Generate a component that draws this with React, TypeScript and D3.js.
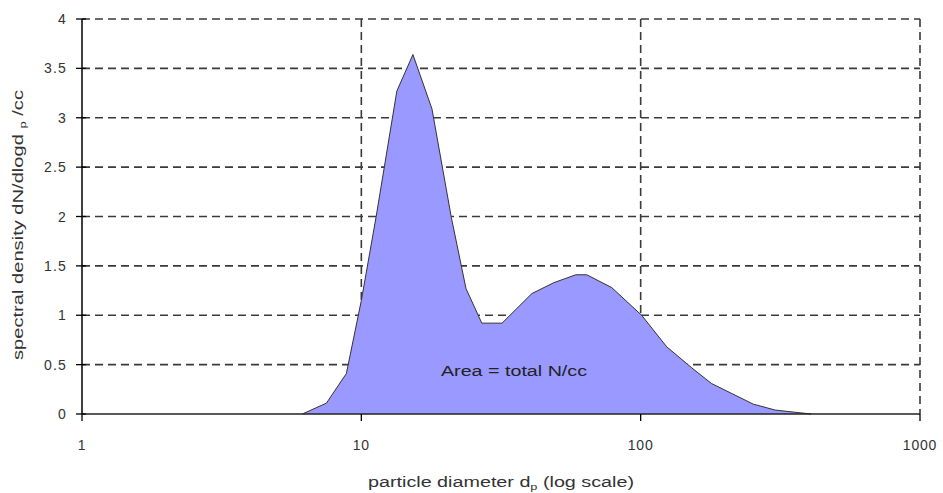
import React from "react";
import * as d3 from "d3";

// particle diameter (nm) and spectral density dN/dlogdp
const diameters = [6.15, 7.5, 8.84, 10.0, 11.3, 13.4, 15.3, 17.9, 21.0, 23.7, 27.0, 31.9, 40.8, 48.9, 58.6, 64.1, 78.8, 100.8, 124, 152, 179, 211, 253, 303, 408];
const densities = [0, 0.11, 0.41, 1.15, 2.0, 3.27, 3.64, 3.09, 1.99, 1.27, 0.92, 0.92, 1.22, 1.33, 1.41, 1.41, 1.28, 1.0, 0.68, 0.47, 0.31, 0.21, 0.1, 0.04, 0];
const yTicks = [0, 0.5, 1, 1.5, 2, 2.5, 3, 3.5, 4];
const xTicks = [1, 10, 100, 1000];

const W = 943;
const H = 493;
const margin = { top: 19, right: 23, bottom: 79, left: 82 };

export default function App() {
  const x = d3.scaleLog().domain([1, 1000]).range([margin.left, W - margin.right]);
  const y = d3.scaleLinear().domain([0, 4]).range([H - margin.bottom, margin.top]);

  const points = diameters.map((d, i) => ({ d, v: densities[i] }));

  const area = d3
    .area<{ d: number; v: number }>()
    .x((p) => x(p.d))
    .y0(y(0))
    .y1((p) => y(p.v));
  const line = d3
    .line<{ d: number; v: number }>()
    .x((p) => x(p.d))
    .y((p) => y(p.v));

  const font = "'Liberation Sans', Arial, sans-serif";
  const grid = "#3a3a3a";

  return (
    <svg width={W} height={H} style={{ position: "absolute", left: 0, top: 0 }} fontFamily={font}>
      <rect width={W} height={H} fill="#fff" />
      {/* dashed horizontal grid */}
      {yTicks.filter((t) => t > 0).map((t) => (
        <line key={"hy" + t} x1={x(1)} x2={x(1000)} y1={y(t)} y2={y(t)} stroke={grid} strokeWidth={1.6} strokeDasharray="8,5" />
      ))}
      {/* dashed vertical grid */}
      {xTicks.filter((t) => t > 1).map((t) => (
        <line key={"vx" + t} x1={x(t)} x2={x(t)} y1={y(4)} y2={y(0)} stroke={grid} strokeWidth={1.6} strokeDasharray="8,5" />
      ))}

      <path d={area(points) || ""} fill="#9999ff" />
      <path d={line(points) || ""} fill="none" stroke="#333" strokeWidth={1} />

      {/* axes */}
      <line x1={x(1)} x2={x(1)} y1={y(4)} y2={y(0)} stroke="#000" strokeWidth={1.5} />
      <line x1={x(1)} x2={x(1000)} y1={y(0)} y2={y(0)} stroke="#222" strokeWidth={1.5} />
      {yTicks.map((t) => (
        <g key={"yt" + t}>
          <line x1={x(1) - 6} x2={x(1) + 4} y1={y(t)} y2={y(t)} stroke="#000" strokeWidth={1.3} />
          <text x={x(1) - 15} y={y(t)} dy="0.36em" textAnchor="end" fontSize={14} fill="#333" letterSpacing={1.2}>
            {t}
          </text>
        </g>
      ))}
      {xTicks.map((t) => (
        <g key={"xt" + t}>
          <line x1={x(t)} x2={x(t)} y1={y(0)} y2={y(0) + 7} stroke="#000" strokeWidth={1.3} />
          <text x={x(t)} y={y(0) + 36} textAnchor="middle" fontSize={14} fill="#333" letterSpacing={0.8}>
            {t}
          </text>
        </g>
      ))}

      <text x={441} y={371} dy="0.35em" fontSize={14} fill="#222" textLength={146} lengthAdjust="spacingAndGlyphs">
        Area = total N/cc
      </text>

      <text x={368} y={487} fontSize={14} fill="#333" textLength={266} lengthAdjust="spacingAndGlyphs">
        particle diameter d<tspan fontSize={9} dy={3}>p</tspan>
        <tspan dy={-3}> (log scale)</tspan>
      </text>

      <text transform={`translate(23, 360) rotate(-90)`} fontSize={14} fill="#333" textLength={270} lengthAdjust="spacingAndGlyphs">
        spectral density dN/dlogd <tspan fontSize={9} dy={3}>p</tspan>
        <tspan dy={-3}> /cc</tspan>
      </text>
    </svg>
  );
}
